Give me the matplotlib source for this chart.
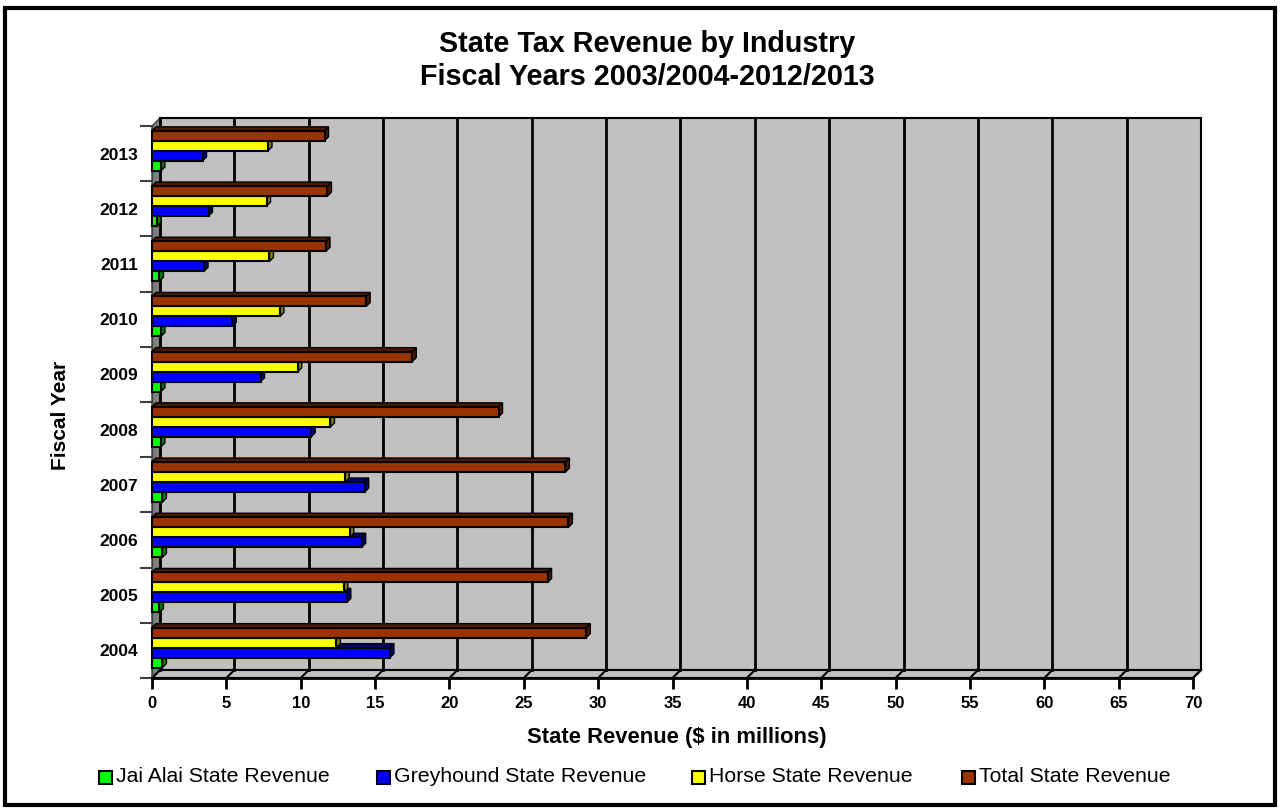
import matplotlib.pyplot as plt
from matplotlib.patches import Rectangle, Polygon

plt.rcParams['font.family'] = ['Liberation Sans', 'DejaVu Sans']

# data ($ millions), fiscal years 2004..2013
years = ['2004', '2005', '2006', '2007', '2008', '2009', '2010', '2011', '2012', '2013']
jai_alai = [0.7, 0.5, 0.7, 0.7, 0.6, 0.6, 0.6, 0.5, 0.35, 0.6]
greyhound = [16.0, 13.1, 14.1, 14.3, 10.7, 7.3, 5.4, 3.5, 3.8, 3.4]
horse = [12.4, 12.9, 13.3, 13.0, 12.0, 9.8, 8.6, 7.9, 7.7, 7.8]
total = [29.2, 26.6, 28.0, 27.8, 23.3, 17.5, 14.4, 11.7, 11.8, 11.6]

series = [
    ('Jai Alai State Revenue', jai_alai, '#00FF00', '#008000'),
    ('Greyhound State Revenue', greyhound, '#0000FF', '#000080'),
    ('Horse State Revenue', horse, '#FFFF00', '#808000'),
    ('Total State Revenue', total, '#993300', '#4d1a00'),
]

W, H = 1280, 809
fig = plt.figure(figsize=(W / 100, H / 100), dpi=100)
# front plane of the plot, in pixels
L, R, T, B = 152, 1193, 126, 678
ax = fig.add_axes([L / W, 1 - B / H, (R - L) / W, (B - T) / H])
xmax, ny = 70, len(years)
ax.set_xlim(0, xmax)
ax.set_ylim(0, ny)
ax.set_facecolor('none')

# depth offsets (8 px) in data units
ddx = 8 * xmax / (R - L)
ddy = 8 * ny / (B - T)

# back wall, floor, side wall
ax.add_patch(Rectangle((ddx, ddy), xmax, ny, fc='#C0C0C0', ec='black', lw=1.5, zorder=1,
                       clip_on=False))
ax.add_patch(Polygon([(0, 0), (xmax, 0), (xmax + ddx, ddy), (ddx, ddy)],
                     closed=True, fc='#C0C0C0', ec='black', lw=1.5, zorder=1, clip_on=False))
ax.add_patch(Polygon([(0, 0), (0, ny), (ddx, ny + ddy), (ddx, ddy)],
                     closed=True, fc='#808080', ec='#404040', lw=1, zorder=1, clip_on=False))
for xv in range(5, xmax, 5):
    ax.plot([xv + ddx, xv + ddx], [ddy, ny + ddy], color='black', lw=2, zorder=2, clip_on=False)
for xv in range(0, xmax + 1, 5):
    ax.plot([xv, xv + ddx], [0, ddy], color='black', lw=1.5, zorder=2, clip_on=False)
ax.plot([ddx, ddx], [ddy, ny + ddy], color='black', lw=2, zorder=2, clip_on=False)

# 3D bars
bh = 10 * ny / (B - T)
bx = 4 * xmax / (R - L)
by = 4 * ny / (B - T)
lift = 0.05
for k, (name, vals, col, dark) in enumerate(series):
    for i, v in enumerate(vals):
        y0 = i + 0.5 + lift + (k - 2) * bh
        ax.add_patch(Polygon([(v, y0), (v + bx, y0 + by), (v + bx, y0 + bh + by), (v, y0 + bh)],
                             closed=True, fc=dark, ec='black', lw=1, zorder=3 + k, clip_on=False))
        ax.add_patch(Polygon([(0, y0 + bh), (v, y0 + bh), (v + bx, y0 + bh + by), (bx, y0 + bh + by)],
                             closed=True, fc=dark, ec='black', lw=1, zorder=3 + k, clip_on=False))
        ax.add_patch(Rectangle((0, y0), v, bh, fc=col, ec='black', lw=1.5, zorder=3 + k,
                               clip_on=False))

# axes, ticks
for s in ['top', 'right']:
    ax.spines[s].set_visible(False)
ax.spines['bottom'].set_linewidth(2)
ax.spines['left'].set_color('#404040')
ax.spines['left'].set_linewidth(1)
ax.set_xticks(range(0, xmax + 1, 5))
ax.tick_params(axis='x', length=8, width=2, pad=5, labelsize=12)
for t in ax.get_xticklabels():
    t.set_fontweight('bold')
ax.set_yticks([i + 0.5 for i in range(ny)])
ax.set_yticklabels(years, fontsize=12.5, fontweight='bold')
ax.set_yticks(range(ny + 1), minor=True)
ax.tick_params(axis='y', which='major', length=0, pad=10)
ax.tick_params(axis='y', which='minor', length=9, width=1.5, color='#404040')

fig.text(647 / W, 1 - 52 / H, 'State Tax Revenue by Industry', ha='center', va='baseline',
         fontsize=20.7, fontweight='bold')
fig.text(647 / W, 1 - 85 / H, 'Fiscal Years 2003/2004-2012/2013', ha='center', va='baseline',
         fontsize=20.7, fontweight='bold')
fig.text(677 / W, 1 - 743 / H, 'State Revenue ($ in millions)', ha='center', va='baseline',
         fontsize=15.8, fontweight='bold')
fig.text(61 / W, 1 - 415 / H, 'Fiscal Year', ha='center', va='center', rotation=90,
         fontsize=15, fontweight='bold')

# legend
leg_x = [99, 377, 692, 962]
for (name, vals, col, dark), lx in zip(series, leg_x):
    fig.patches.append(Rectangle((lx / W, 1 - 784 / H), 13 / W, 13 / H, fc=col, ec='black',
                                 lw=1.5, transform=fig.transFigure))
    fig.text((lx + 17) / W, 1 - 777 / H, name, ha='left', va='center', fontsize=15.3)

# outer frame
fig.patches.append(Rectangle((5 / W, 1 - 805 / H), 1270 / W, 797 / H, fill=False, ec='black',
                             lw=3, transform=fig.transFigure))

fig.savefig('out.png', dpi=100)
